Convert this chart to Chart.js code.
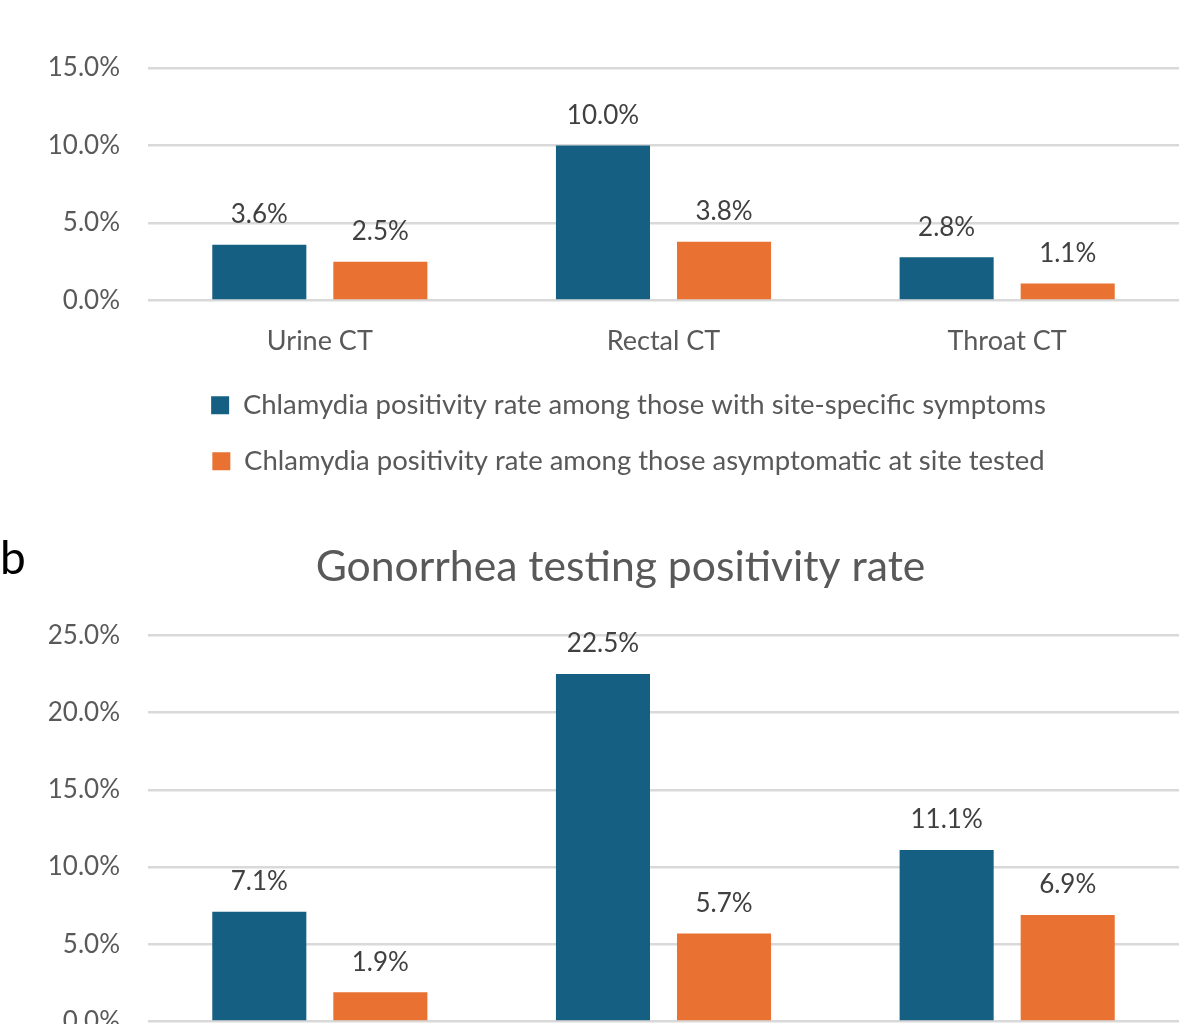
<!DOCTYPE html>
<html lang="en">
<head>
<meta charset="UTF-8">
<title>Chlamydia and gonorrhea testing positivity rate</title>
<script src="https://cdn.jsdelivr.net/npm/chart.js@4.4.1/dist/chart.umd.min.js"></script>
<style>
  html, body { margin: 0; padding: 0; background: #fff; }
  body { width: 1179px; height: 1024px; overflow: hidden; position: relative; }
  canvas { position: absolute; left: 0; }
  #chartA { top: 0; }
  #chartB { top: 500px; }
  #panelB { position: absolute; left: 0; top: 534px; font: 46px Lato, sans-serif; line-height: 1; color: #000; }
</style>
</head>
<body>
<canvas id="chartA" width="1179" height="500"></canvas>
<canvas id="chartB" width="1179" height="721"></canvas>
<div id="panelB">b</div>
<script>
  // data
  const ctSites = ['Urine CT', 'Rectal CT', 'Throat CT'];
  const ctSymptomatic = [3.6, 10.0, 2.8];
  const ctAsymptomatic = [2.5, 3.8, 1.1];

  const gcSites = ['Urine GC', 'Rectal GC', 'Throat GC'];
  const gcSymptomatic = [7.1, 22.5, 11.1];
  const gcAsymptomatic = [1.9, 5.7, 6.9];

  const BLUE = '#156082';
  const ORANGE = '#E97132';
  const FONT = 'Lato, "Open Sans", sans-serif';

  // value labels above each bar
  const barValues = {
    id: 'barValues',
    afterDatasetsDraw(chart) {
      const ctx = chart.ctx;
      ctx.save();
      ctx.font = '26px ' + FONT;
      ctx.fillStyle = '#404040';
      ctx.textAlign = 'center';
      ctx.textBaseline = 'middle';
      chart.data.datasets.forEach((ds, i) => {
        chart.getDatasetMeta(i).data.forEach((bar, j) => {
          ctx.fillText(ds.data[j].toFixed(1) + '%', bar.x, bar.y - 30);
        });
      });
      ctx.restore();
    }
  };

  // legend and title sit a bit right of the canvas centre, like in the figure
  const nudge = {
    id: 'nudge',
    beforeDraw(chart) {
      if (chart.legend) chart.legend.left = 78;
      if (chart.titleBlock) chart.titleBlock.left = 62;
    }
  };

  function makeChart(id, labels, sym, asym, disease, yMax, title) {
    return new Chart(document.getElementById(id), {
      type: 'bar',
      data: {
        labels: labels,
        datasets: [
          { label: disease + ' positivity rate among those with site-specific symptoms', data: sym, backgroundColor: BLUE },
          { label: disease + ' positivity rate among those asymptomatic at site tested', data: asym, backgroundColor: ORANGE }
        ]
      },
      options: {
        responsive: false,
        animation: false,
        categoryPercentage: 0.7045,
        barPercentage: 0.777,
        layout: { padding: { left: 0, right: 0, top: title ? 0 : 68, bottom: 15 } },
        plugins: {
          tooltip: { enabled: false },
          title: {
            display: !!title,
            text: title,
            color: '#595959',
            font: { family: FONT, size: 42.7, weight: 'normal', lineHeight: 1.2 },
            padding: { top: 42, bottom: 42 }
          },
          legend: {
            position: 'bottom',
            labels: {
              color: '#595959',
              font: { family: FONT, size: 27.5 },
              boxWidth: 18,
              boxHeight: 18,
              padding: 28.5
            }
          }
        },
        scales: {
          x: {
            grid: { display: false },
            border: { display: false },
            afterFit(scale) { scale.height -= 10; },
            ticks: { color: '#595959', font: { family: FONT, size: 27 }, padding: 16 }
          },
          y: {
            min: 0,
            max: yMax,
            afterFit(scale) { scale.width = 148; },
            grid: { color: '#D9D9D9', lineWidth: 2.5, drawTicks: false },
            border: { display: false },
            ticks: {
              stepSize: 5,
              color: '#595959',
              font: { family: FONT, size: 26 },
              padding: 28,
              callback: v => v.toFixed(1) + '%'
            }
          }
        }
      },
      plugins: [barValues, nudge]
    });
  }

  makeChart('chartA', ctSites, ctSymptomatic, ctAsymptomatic, 'Chlamydia', 15, '');
  makeChart('chartB', gcSites, gcSymptomatic, gcAsymptomatic, 'Gonorrhea', 25, 'Gonorrhea testing positivity rate');
</script>
</body>
</html>
